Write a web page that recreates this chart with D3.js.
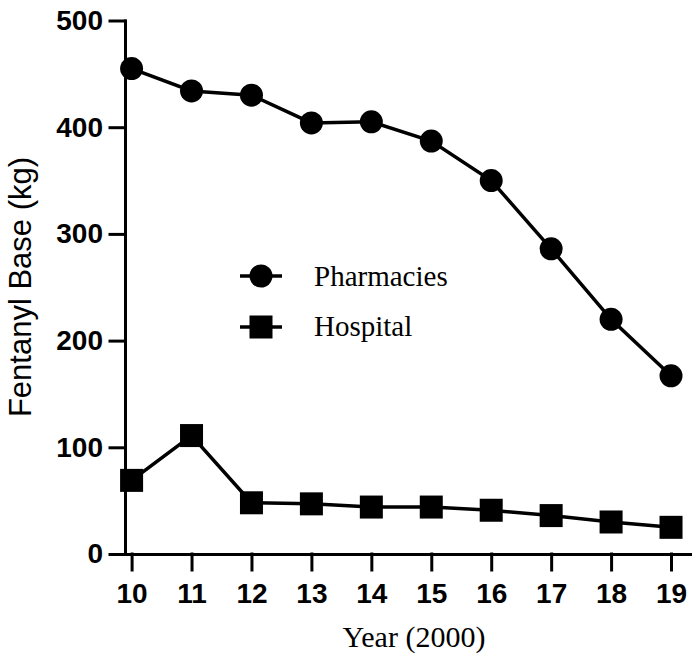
<!DOCTYPE html>
<html>
<head>
<meta charset="utf-8">
<script src="https://cdn.jsdelivr.net/npm/d3@7"></script>
<style>
  body { margin: 0; background: #fff; }
  svg { display: block; }
</style>
</head>
<body>
<svg id="chart"></svg>
<script>
// Data
const years = [10, 11, 12, 13, 14, 15, 16, 17, 18, 19];
const pharmacies = [455, 434, 430, 404, 405, 387, 350, 286, 220, 167];
const hospital = [69, 111, 48, 47, 44, 44, 41, 36, 30, 25];
const yTicks = [0, 100, 200, 300, 400, 500];
const seriesNames = ["Pharmacies", "Hospital"];

const width = 692, height = 656;

const svg = d3.select("#chart")
  .attr("width", width)
  .attr("height", height)
  .attr("viewBox", "0 0 " + width + " " + height);

// Scales
const x = d3.scaleLinear().domain([9.89, 19.35]).range([125, 692]);
const y = d3.scaleLinear().domain([0, 500]).range([554, 20.5]);

// Axes
const xAxis = svg.append("g")
  .attr("transform", "translate(0," + y(0) + ")")
  .call(d3.axisBottom(x).tickValues(years).tickSize(16).tickSizeOuter(0));

const yAxis = svg.append("g")
  .attr("transform", "translate(" + x.range()[0] + ",0)")
  .call(d3.axisLeft(y).tickValues(yTicks).tickSize(15).tickSizeOuter(0).tickPadding(7));

[xAxis, yAxis].forEach(g => {
  g.selectAll("path.domain, line")
    .attr("stroke", "#000")
    .attr("stroke-width", 3)
    .attr("stroke-linecap", "square");
  g.selectAll("text")
    .attr("fill", "#000")
    .style("font-family", "'Liberation Sans', Arial, sans-serif")
    .style("font-weight", "bold")
    .style("font-size", "28px");
});

xAxis.selectAll("text").attr("dy", "0.71em").attr("y", 29);

// Axis titles
svg.append("text")
  .attr("transform", "translate(31," + 287 + ") rotate(-90)")
  .attr("text-anchor", "middle")
  .style("font-family", "'Liberation Sans', Arial, sans-serif")
  .style("font-size", "31px")
  .text("Fentanyl Base (kg)");

svg.append("text")
  .attr("x", 414)
  .attr("y", 647)
  .attr("text-anchor", "middle")
  .style("font-family", "'Liberation Serif', 'Times New Roman', serif")
  .style("font-size", "30px")
  .text("Year (2000)");

// Lines
const line = d3.line().x((d, i) => x(years[i])).y(d => y(d));

[pharmacies, hospital].forEach(s => {
  svg.append("path")
    .datum(s)
    .attr("d", line)
    .attr("fill", "none")
    .attr("stroke", "#000")
    .attr("stroke-width", 3.5);
});

// Markers
svg.append("g").selectAll("circle")
  .data(pharmacies)
  .enter()
  .append("circle")
  .attr("cx", (d, i) => x(years[i]))
  .attr("cy", d => y(d))
  .attr("r", 11.5)
  .attr("fill", "#000");

const sq = 23;
svg.append("g").selectAll("rect")
  .data(hospital)
  .enter()
  .append("rect")
  .attr("x", (d, i) => x(years[i]) - sq / 2)
  .attr("y", d => y(d) - sq / 2)
  .attr("width", sq)
  .attr("height", sq)
  .attr("fill", "#000");

// Legend
const legend = svg.append("g");
const legendRows = [
  { name: seriesNames[0], cy: 276, base: 286, shape: "circle" },
  { name: seriesNames[1], cy: 327, base: 336, shape: "square" }
];

legendRows.forEach(r => {
  legend.append("line")
    .attr("x1", 240).attr("x2", 282)
    .attr("y1", r.cy).attr("y2", r.cy)
    .attr("stroke", "#000")
    .attr("stroke-width", 3.5);
  if (r.shape === "circle") {
    legend.append("circle")
      .attr("cx", 261).attr("cy", r.cy).attr("r", 11.5).attr("fill", "#000");
  } else {
    legend.append("rect")
      .attr("x", 261 - sq / 2).attr("y", r.cy - sq / 2)
      .attr("width", sq).attr("height", sq).attr("fill", "#000");
  }
  legend.append("text")
    .attr("x", 314)
    .attr("y", r.base)
    .style("font-family", "'Liberation Serif', 'Times New Roman', serif")
    .style("font-size", "29px")
    .text(r.name);
});
</script>
</body>
</html>
